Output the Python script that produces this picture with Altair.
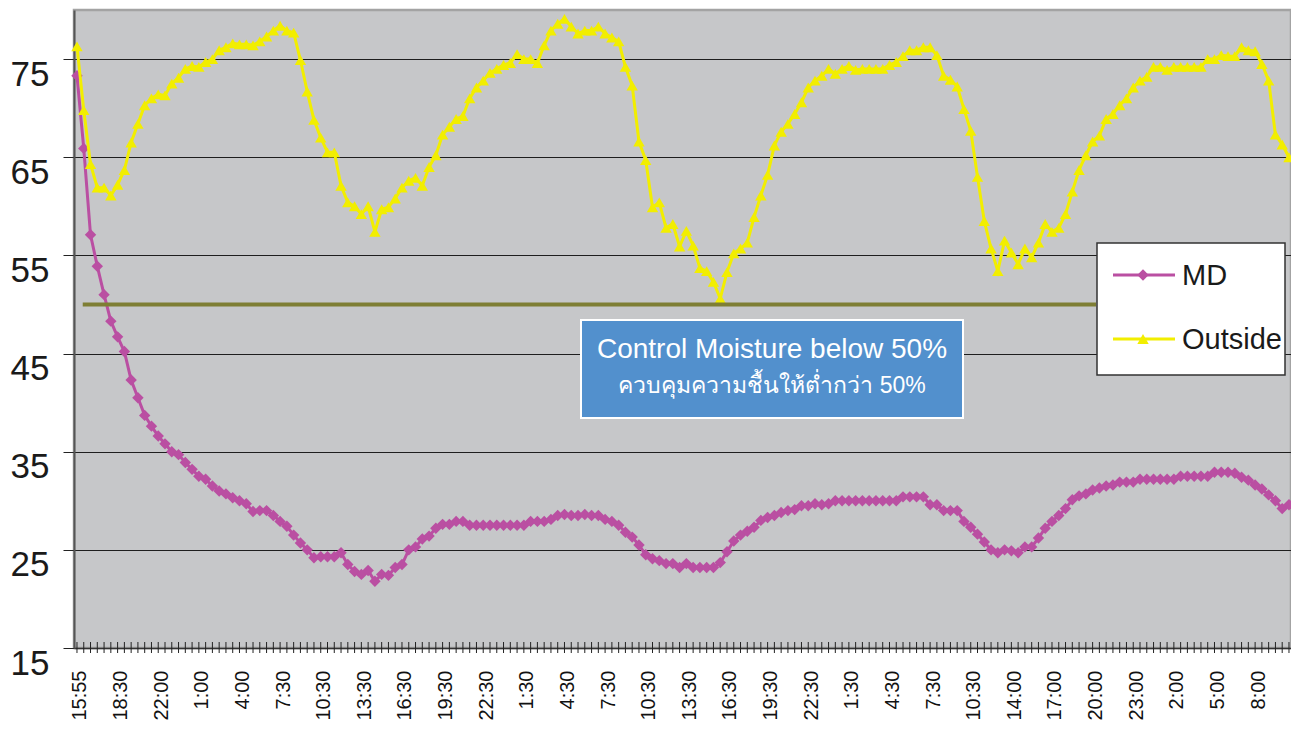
import altair as alt
import pandas as pd

# ---------------- data ----------------
tick_labels = ["15:55", "18:30", "22:00", "1:00", "4:00", "7:30", "10:30", "13:30",
               "16:30", "19:30", "22:30", "1:30", "4:30", "7:30", "10:30", "13:30",
               "16:30", "19:30", "22:30", "1:30", "4:30", "7:30", "10:30", "14:00",
               "17:00", "20:00", "23:00", "2:00", "5:00", "8:00"]
label_every = 6

series_names = ["MD", "Outside"]

md_values = [
    73.3, 65.9, 57.1, 53.9, 51.0, 48.3, 46.7, 45.2, 42.3, 40.5,
    38.7, 37.6, 36.6, 35.8, 35.0, 34.7, 33.9, 33.2, 32.5, 32.2,
    31.5, 31.0, 30.7, 30.3, 30.0, 29.7, 28.9, 29.0, 29.0, 28.5,
    27.9, 27.4, 26.5, 25.7, 25.0, 24.2, 24.3, 24.3, 24.3, 24.7,
    23.5, 22.8, 22.5, 22.9, 21.8, 22.5, 22.4, 23.2, 23.5, 25.0,
    25.3, 26.1, 26.4, 27.2, 27.6, 27.6, 27.9, 27.9, 27.5, 27.5,
    27.5, 27.5, 27.5, 27.5, 27.5, 27.5, 27.5, 27.9, 27.9, 27.9,
    28.1, 28.5, 28.6, 28.5, 28.5, 28.6, 28.5, 28.5, 28.1, 27.9,
    27.5, 26.8, 26.3, 25.5, 24.5, 24.1, 23.9, 23.6, 23.6, 23.2,
    23.6, 23.2, 23.2, 23.2, 23.2, 23.7, 24.8, 25.9, 26.5, 26.9,
    27.3, 28.0, 28.3, 28.5, 28.8, 29.0, 29.1, 29.5, 29.5, 29.7,
    29.6, 29.7, 30.0, 30.0, 30.0, 30.0, 30.0, 30.0, 30.0, 30.0,
    30.0, 30.0, 30.4, 30.4, 30.4, 30.4, 29.6, 29.6, 29.0, 29.0,
    29.0, 27.9, 27.3, 26.6, 25.8, 25.0, 24.7, 25.0, 24.9, 24.7,
    25.3, 25.3, 26.2, 27.2, 27.9, 28.5, 29.2, 30.1, 30.5, 30.7,
    31.1, 31.3, 31.5, 31.6, 31.9, 31.9, 31.9, 32.2, 32.2, 32.2,
    32.2, 32.2, 32.2, 32.5, 32.5, 32.5, 32.5, 32.5, 32.9, 32.9,
    32.9, 32.8, 32.4, 32.1, 31.6, 31.2, 30.6, 30.0, 29.2, 29.6,
]

outside_values = [
    76.3, 69.8, 64.3, 61.9, 61.9, 61.1, 62.2, 63.7, 66.5, 68.4,
    70.3, 71.0, 71.4, 71.3, 72.5, 73.1, 74.0, 74.3, 74.2, 74.7,
    75.0, 75.9, 76.2, 76.6, 76.5, 76.5, 76.4, 76.8, 77.3, 77.9,
    78.4, 77.9, 77.7, 74.9, 71.7, 68.8, 67.0, 65.5, 65.5, 62.1,
    60.4, 60.0, 59.2, 60.0, 57.4, 59.7, 59.9, 60.8, 61.9, 62.6,
    62.9, 62.1, 64.0, 65.2, 67.3, 68.1, 68.9, 69.2, 71.0, 72.1,
    72.8, 73.6, 74.0, 74.4, 74.6, 75.5, 75.0, 75.0, 74.6, 76.4,
    77.9, 78.6, 79.1, 78.3, 77.6, 77.9, 77.9, 78.3, 77.6, 77.2,
    76.8, 74.2, 72.3, 66.6, 64.7, 59.9, 60.4, 57.8, 58.2, 55.9,
    57.5, 56.0, 53.7, 53.4, 52.3, 50.6, 53.3, 55.2, 55.7, 56.3,
    58.9, 61.1, 63.2, 66.2, 67.6, 68.4, 69.4, 70.6, 72.1, 72.8,
    73.3, 74.0, 73.5, 74.0, 74.3, 73.9, 74.0, 74.0, 74.0, 74.0,
    74.4, 74.7, 75.3, 75.9, 75.9, 76.2, 76.2, 75.4, 73.3, 72.9,
    72.2, 69.9, 67.7, 63.0, 58.5, 55.7, 53.4, 56.5, 55.3, 54.1,
    55.7, 54.8, 56.3, 58.2, 57.4, 57.8, 59.2, 61.5, 63.7, 65.2,
    66.6, 67.2, 68.9, 69.4, 70.3, 71.0, 72.1, 72.8, 73.2, 74.2,
    74.2, 73.9, 74.2, 74.2, 74.2, 74.2, 74.2, 75.0, 75.0, 75.4,
    75.3, 75.3, 76.2, 75.9, 75.8, 74.5, 72.8, 67.3, 66.3, 65.0,
]

control_level = 50
control_start = 0.85
control_end = 150.5

y_ticks = [15, 25, 35, 45, 55, 65, 75]

note_line1 = "Control Moisture below 50%"
note_line2 = "ควบคุมความชื้นให้ต่ำกว่า 50%"

# ---------------- styles ----------------
MD_COLOR = "#BA4FA2"
OUT_COLOR = "#F2EE00"
OLIVE = "#7E7E34"
BOX_BLUE = "#5290CD"
FONT = "Liberation Sans"
MARK_SIZE = 130
LINE_W = 3

W, H = 1217, 638

n = len(md_values)
idx = list(range(n))
df = pd.DataFrame({
    "i": idx + idx,
    "value": md_values + outside_values,
    "series": [series_names[0]] * n + [series_names[1]] * n,
})

xscale = alt.Scale(domain=[-0.44, n - 0.7], nice=False, zero=False)
yscale = alt.Scale(domain=[15, 80], nice=False, zero=False)

label_expr = "[" + ",".join("'%s'" % t for t in tick_labels) + "][round(datum.value/%d)]" % label_every

x_enc = alt.X("i:Q", scale=xscale, title=None,
              axis=alt.Axis(values=list(range(0, n, label_every)), labelExpr=label_expr,
                            labelAngle=270, labelFontSize=20, labelFont=FONT,
                            labelColor="#111", labelPadding=22, labelOffset=3,
                            ticks=False, tickSize=0,
                            grid=False, domainColor="#333", domainWidth=1.5,
                            labelFlush=False, labelOverlap=False, labelBound=False))
y_enc = alt.Y("value:Q", scale=yscale, title=None,
              axis=alt.Axis(values=y_ticks, labelFontSize=35, labelFont=FONT,
                            labelColor="#1a1a1a", labelPadding=14, tickSize=11,
                            tickColor="#222", tickWidth=1, grid=True,
                            gridColor="#1e1e1e", gridWidth=1, domainColor="#555",
                            domainWidth=2, labelOffset=15, labelBaseline="middle"))

base = alt.Chart(df)

md_line = base.transform_filter(alt.datum.series == series_names[0]).mark_line(
    color=MD_COLOR, strokeWidth=LINE_W).encode(x=x_enc, y=y_enc)
md_pts = base.transform_filter(alt.datum.series == series_names[0]).mark_point(
    shape="diamond", filled=True, size=MARK_SIZE, color=MD_COLOR, opacity=1).encode(x="i:Q", y="value:Q")

out_line = base.transform_filter(alt.datum.series == series_names[1]).mark_line(
    color=OUT_COLOR, strokeWidth=LINE_W).encode(x="i:Q", y="value:Q")
out_pts = base.transform_filter(alt.datum.series == series_names[1]).mark_point(
    shape="triangle-up", filled=True, size=MARK_SIZE, color=OUT_COLOR, opacity=1).encode(x="i:Q", y="value:Q")

ticks_df = pd.DataFrame({"i": idx})
xticks = alt.Chart(ticks_df).mark_rule(color="#222", strokeWidth=1).encode(
    x="i:Q", y=alt.value(H - 6), y2=alt.value(H + 5))

ctrl_df = pd.DataFrame({"x": [control_start], "x2": [control_end], "y": [control_level]})
ctrl = alt.Chart(ctrl_df).mark_rule(color=OLIVE, strokeWidth=4).encode(
    x="x:Q", x2="x2:Q", y="y:Q")

one = pd.DataFrame({"a": [0]})

# legend box
leg_box = alt.Chart(one).mark_rect(fill="white", stroke="#333", strokeWidth=1.5).encode(
    x=alt.value(1023), x2=alt.value(1211), y=alt.value(233), y2=alt.value(365))
leg_rows = []
for name, color, shape, ypix in [(series_names[0], MD_COLOR, "diamond", 265),
                                 (series_names[1], OUT_COLOR, "triangle-up", 329)]:
    leg_rows.append(alt.Chart(one).mark_rule(color=color, strokeWidth=3).encode(
        x=alt.value(1039), x2=alt.value(1101), y=alt.value(ypix)))
    leg_rows.append(alt.Chart(one).mark_point(shape=shape, filled=True, size=MARK_SIZE, color=color,
                                              opacity=1).encode(
        x=alt.value(1069), y=alt.value(ypix)))
    leg_rows.append(alt.Chart(one).mark_text(align="left", baseline="middle", fontSize=29,
                                             font=FONT, color="#1a1a1a", text=name).encode(
        x=alt.value(1108), y=alt.value(ypix + 1)))

# annotation box
note_box = alt.Chart(one).mark_rect(fill=BOX_BLUE, stroke="white", strokeWidth=2).encode(
    x=alt.value(507), x2=alt.value(889), y=alt.value(310), y2=alt.value(408))
note_t1 = alt.Chart(one).mark_text(align="center", baseline="middle", fontSize=28, font=FONT,
                                   color="white", text=note_line1).encode(
    x=alt.value(698), y=alt.value(340))
note_t2 = alt.Chart(one).mark_text(align="center", baseline="middle", fontSize=23, font=FONT,
                                   color="white", text=note_line2).encode(
    x=alt.value(698), y=alt.value(376))

chart = alt.layer(md_line, md_pts, out_line, out_pts, xticks, ctrl, leg_box, *leg_rows,
                  note_box, note_t1, note_t2).properties(
    width=W, height=H,
    autosize=alt.AutoSizeParams(type="none"),
    padding={"left": 66, "top": 2, "right": 0, "bottom": 74},
    background="white",
).configure_view(
    fill="#C6C7C9", stroke="#A3A3A3", strokeWidth=2.5
)

chart.save("out.html", embed_options={"renderer": "svg", "actions": False})
